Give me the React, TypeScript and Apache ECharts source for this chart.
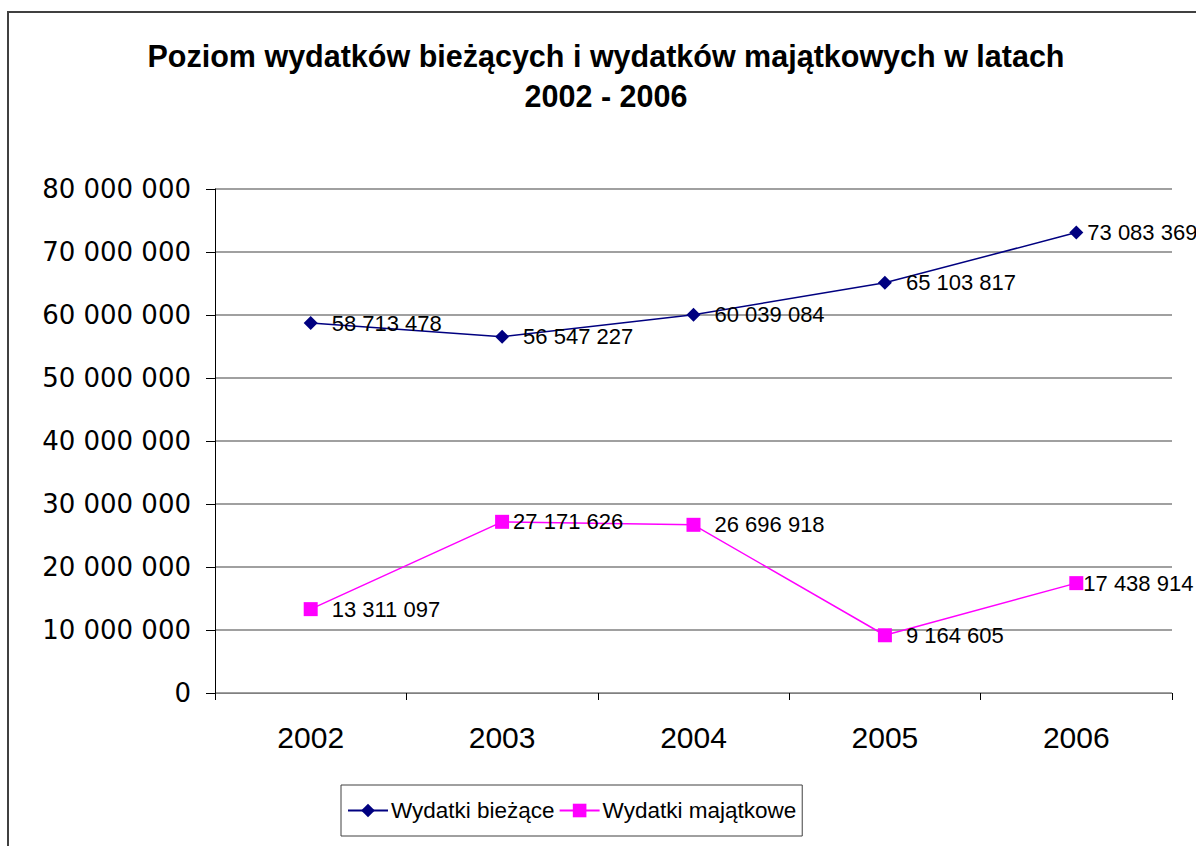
import React, { useEffect, useRef } from "react";
import * as echarts from "echarts";

const years = ["2002", "2003", "2004", "2005", "2006"];
const biezace = [58713478, 56547227, 60039084, 65103817, 73083369];
const majatkowe = [13311097, 27171626, 26696918, 9164605, 17438914];
const seriesNames = ["Wydatki bieżące", "Wydatki majątkowe"];
const titleText = "Poziom wydatków bieżących i wydatków majątkowych w latach\n2002 - 2006";

const fmt = (v: number) => String(Math.round(v)).replace(/\B(?=(\d{3})+(?!\d))/g, " ");

export default function App() {
  const ref = useRef<HTMLDivElement>(null);
  useEffect(() => {
    if (!ref.current) return;
    const chart = echarts.init(ref.current, null, { renderer: "svg" });
    const labelDist1 = [14, 14, 14, 14, 4];
    const labelDist2 = [14, 4, 14, 14, 0];
    chart.setOption({
      animation: false,
      backgroundColor: "#ffffff",
      title: {
        text: titleText,
        left: 601,
        top: 31,
        textAlign: "center",
        textStyle: {
          fontFamily: "Liberation Sans, Arial, sans-serif",
          fontWeight: "bold",
          fontSize: 30.5,
          lineHeight: 40,
          color: "#000",
        },
      },
      graphic: [
        {
          type: "rect",
          shape: { x: 8, y: 12, width: 1300, height: 1000 },
          style: { fill: "none", stroke: "#404040", lineWidth: 2 },
          silent: true,
          z: -1,
        },
      ],
      grid: { left: 215, right: 24, top: 189, bottom: 153, containLabel: false },
      xAxis: {
        type: "category",
        data: years,
        boundaryGap: true,
        axisLine: { show: true, lineStyle: { color: "#808080", width: 1 } },
        axisTick: { show: true, inside: false, length: 7, lineStyle: { color: "#000" } },
        axisLabel: {
          color: "#000",
          fontFamily: "Liberation Sans, Arial, sans-serif",
          fontSize: 30,
          margin: 29,
        },
        splitLine: { show: false },
      },
      yAxis: {
        type: "value",
        min: 0,
        max: 80000000,
        interval: 10000000,
        axisLine: { show: true, lineStyle: { color: "#000", width: 1 } },
        axisTick: { show: true, inside: false, length: 9, lineStyle: { color: "#000" } },
        axisLabel: {
          color: "#000",
          fontFamily: "DejaVu Sans, sans-serif",
          fontSize: 26,
          margin: 24,
          formatter: (v: number) => fmt(v),
        },
        splitLine: { show: true, lineStyle: { color: "#808080", width: 1.5 } },
      },
      legend: {
        left: 341,
        top: 785,
        orient: "horizontal",
        padding: [14, 6, 14, 6],
        borderColor: "#404040",
        borderWidth: 1,
        itemGap: 4,
        itemWidth: 40,
        itemHeight: 17,
        textStyle: {
          color: "#000",
          fontFamily: "Liberation Sans, Arial, sans-serif",
          fontSize: 22.5,
          padding: [0, 0, 0, -2],
        },
        data: seriesNames,
      },
      series: [
        {
          name: seriesNames[0],
          type: "line",
          data: biezace.map((v, i) => ({ value: v, label: { distance: labelDist1[i] } })),
          symbol: "diamond",
          symbolSize: 14,
          color: "#000080",
          lineStyle: { color: "#000080", width: 1.5 },
          itemStyle: { color: "#000080" },
          label: {
            show: true,
            position: "right",
            color: "#000",
            fontFamily: "Liberation Sans, Arial, sans-serif",
            fontSize: 22,
            formatter: (p: any) => fmt(p.value),
          },
        },
        {
          name: seriesNames[1],
          type: "line",
          data: majatkowe.map((v, i) => ({ value: v, label: { distance: labelDist2[i] } })),
          symbol: "rect",
          symbolSize: 14,
          color: "#FF00FF",
          lineStyle: { color: "#FF00FF", width: 1.5 },
          itemStyle: { color: "#FF00FF" },
          label: {
            show: true,
            position: "right",
            color: "#000",
            fontFamily: "Liberation Sans, Arial, sans-serif",
            fontSize: 22,
            formatter: (p: any) => fmt(p.value),
          },
        },
      ],
    });
    return () => chart.dispose();
  }, []);
  return (
    <div
      ref={ref}
      style={{ position: "fixed", left: 0, top: 0, width: 1196, height: 846, background: "#fff" }}
    />
  );
}
